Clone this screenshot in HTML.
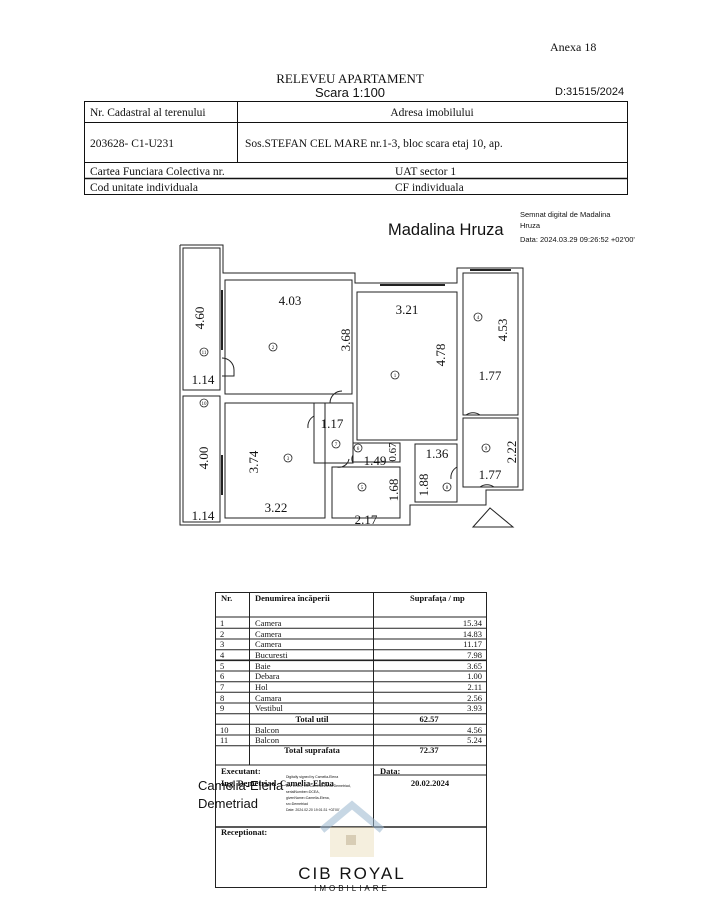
<!DOCTYPE html>
<html><head><meta charset="utf-8"><style>
html,body{margin:0;padding:0;background:#fff;}
svg{display:block}
.s{font-family:"Liberation Serif",serif;fill:#111}
.a{font-family:"Liberation Sans",sans-serif;fill:#111}
</style></head><body>
<svg width="702" height="900" viewBox="0 0 702 900" xmlns="http://www.w3.org/2000/svg">
<rect width="702" height="900" fill="#fff"/>
<text x="550" y="51" class="s" font-size="12">Anexa 18</text>
<text x="350" y="83" class="s" font-size="13" text-anchor="middle">RELEVEU  APARTAMENT</text>
<text x="350" y="97" class="a" font-size="13" text-anchor="middle">Scara 1:100</text>
<text x="555" y="95" class="a" font-size="11">D:31515/2024</text>
<g stroke="#111" stroke-width="1" fill="none">
<rect x="84.5" y="101.5" width="543" height="93"/>
<line x1="84" y1="122.5" x2="628" y2="122.5"/>
<line x1="84" y1="162.5" x2="628" y2="162.5"/>
<line x1="84" y1="178.5" x2="628" y2="178.5" stroke-width="1.5"/>
<line x1="237.5" y1="101" x2="237.5" y2="162"/>
</g>
<text x="90" y="116" class="s" font-size="11.5">Nr. Cadastral al terenului</text>
<text x="432" y="116" class="s" font-size="11.5" text-anchor="middle">Adresa imobilului</text>
<text x="90" y="147" class="s" font-size="11.5">203628- C1-U231</text>
<text x="245" y="147" class="s" font-size="11.5">Sos.STEFAN CEL MARE nr.1-3, bloc      scara      etaj 10, ap.</text>
<text x="90" y="175" class="s" font-size="11.5">Cartea Funciara Colectiva nr.</text>
<text x="395" y="175" class="s" font-size="11.5">UAT sector  1</text>
<text x="90" y="191" class="s" font-size="11.5">Cod unitate individuala</text>
<text x="395" y="191" class="s" font-size="11.5">CF individuala</text>
<text x="388" y="235" class="a" font-size="16.5">Madalina Hruza</text>
<text x="520" y="217" class="a" font-size="7.5" fill="#444">Semnat digital de Madalina</text>
<text x="520" y="228" class="a" font-size="7.5" fill="#444">Hruza</text>
<text x="520" y="242" class="a" font-size="7.5" fill="#444">Data: 2024.03.29 09:26:52 +02'00'</text>
<g stroke="#222" stroke-width="1" fill="none">
<polyline points="180,245 223,245 223,273 355,273 355,283 457,283 457,268 523,268 523,490 486,490 486,505 410,505 410,525 180,525 180,245"/>
<rect x="183" y="248" width="37" height="142"/>
<rect x="183" y="396" width="37" height="126"/>
<rect x="225" y="280" width="127" height="114"/>
<rect x="357" y="292" width="100" height="148"/>
<rect x="463" y="273" width="55" height="142"/>
<rect x="225" y="403" width="100" height="115"/>
<rect x="314" y="403" width="39" height="60"/>
<rect x="353" y="443" width="47" height="19"/>
<rect x="332" y="467" width="68" height="51"/>
<rect x="415" y="444" width="42" height="58"/>
<rect x="463" y="418" width="55" height="69"/>
<line x1="380" y1="285" x2="445" y2="285" stroke-width="2"/>
<line x1="470" y1="270" x2="511" y2="270" stroke-width="2"/>
<line x1="222" y1="290" x2="222" y2="350" stroke-width="2"/>
<line x1="222" y1="455" x2="222" y2="495" stroke-width="2"/>
<polygon points="473,527 490,508 513,527"/>
<path d="M222,358 a12,12 0 0 1 12,12 v6 h-12"/>
<path d="M330,403 a12,12 0 0 1 12,-12"/>
<path d="M314,416 a12,12 0 0 0 -6,12"/>
<path d="M466,415 a12,12 0 0 1 14,0"/>
<path d="M457,467 a12,12 0 0 0 -6,12"/>
<path d="M480,487 a12,12 0 0 1 14,0"/>
<path d="M353,455 a8,8 0 0 0 0,8"/>
<path d="M337,467 a10,10 0 0 0 12,-8"/>
</g>
<g class="s" font-size="13">
<text x="290" y="305" text-anchor="middle">4.03</text>
<text x="407" y="314" text-anchor="middle">3.21</text>
<text x="490" y="380" text-anchor="middle">1.77</text>
<text x="203" y="384" text-anchor="middle">1.14</text>
<text x="332" y="428" text-anchor="middle">1.17</text>
<text x="375" y="465" text-anchor="middle">1.49</text>
<text x="437" y="458" text-anchor="middle">1.36</text>
<text x="490" y="479" text-anchor="middle">1.77</text>
<text x="276" y="512" text-anchor="middle">3.22</text>
<text x="203" y="520" text-anchor="middle">1.14</text>
<text x="366" y="524" text-anchor="middle">2.17</text>
<text transform="translate(350,340) rotate(-90)" text-anchor="middle">3.68</text>
<text transform="translate(204,318) rotate(-90)" text-anchor="middle">4.60</text>
<text transform="translate(445,355) rotate(-90)" text-anchor="middle">4.78</text>
<text transform="translate(507,330) rotate(-90)" text-anchor="middle">4.53</text>
<text transform="translate(396,452) rotate(-90)" text-anchor="middle" font-size="11">0.67</text>
<text transform="translate(428,485) rotate(-90)" text-anchor="middle">1.88</text>
<text transform="translate(516,452) rotate(-90)" text-anchor="middle">2.22</text>
<text transform="translate(208,458) rotate(-90)" text-anchor="middle">4.00</text>
<text transform="translate(258,462) rotate(-90)" text-anchor="middle">3.74</text>
<text transform="translate(398,490) rotate(-90)" text-anchor="middle">1.68</text>
</g>
<g stroke="#222" fill="none" stroke-width="0.8">
<circle cx="273" cy="347" r="4"/><circle cx="204" cy="352" r="4"/><circle cx="204" cy="403" r="4"/>
<circle cx="395" cy="375" r="4"/><circle cx="478" cy="317" r="4"/><circle cx="288" cy="458" r="4"/>
<circle cx="336" cy="444" r="4"/><circle cx="358" cy="448" r="4"/><circle cx="362" cy="487" r="4"/>
<circle cx="447" cy="487" r="4"/><circle cx="486" cy="448" r="4"/>
</g>
<g class="s" font-size="5" text-anchor="middle">
<text x="273" y="349">2</text><text x="204" y="354">11</text><text x="204" y="405">10</text>
<text x="395" y="377">1</text><text x="478" y="319">4</text><text x="288" y="460">3</text>
<text x="336" y="446">7</text><text x="358" y="450">6</text><text x="362" y="489">5</text>
<text x="447" y="489">8</text><text x="486" y="450">9</text>
</g>
<g stroke="#222" stroke-width="1" fill="none">
<rect x="215.5" y="592.5" width="271" height="295"/>
<line x1="249.5" y1="592" x2="249.5" y2="765"/>
<line x1="373.5" y1="592" x2="373.5" y2="827"/>
<line x1="215" y1="617" x2="487" y2="617"/>
<line x1="215" y1="628.3" x2="487" y2="628.3"/>
<line x1="215" y1="639" x2="487" y2="639"/>
<line x1="215" y1="649.7" x2="487" y2="649.7"/>
<line x1="215" y1="660.3" x2="487" y2="660.3" stroke-width="1.6"/>
<line x1="215" y1="671" x2="487" y2="671"/>
<line x1="215" y1="681.7" x2="487" y2="681.7"/>
<line x1="215" y1="692.3" x2="487" y2="692.3"/>
<line x1="215" y1="703" x2="487" y2="703"/>
<line x1="215" y1="713.7" x2="487" y2="713.7"/>
<line x1="215" y1="724.3" x2="487" y2="724.3"/>
<line x1="215" y1="735" x2="487" y2="735"/>
<line x1="215" y1="745.7" x2="487" y2="745.7"/>
<line x1="215" y1="765" x2="487" y2="765"/>
<line x1="373" y1="775" x2="487" y2="775"/>
<line x1="215" y1="827" x2="487" y2="827" stroke-width="1.4"/>
</g>
<g class="s" font-size="8.5">
<text x="221" y="601" font-weight="bold">Nr.</text>
<text x="255" y="601" font-weight="bold">Denumirea încăperii</text>
<text x="410" y="601" font-weight="bold">Suprafaţa / mp</text>
<text x="220" y="626">1</text><text x="255" y="626">Camera</text><text x="482" y="626" text-anchor="end">15.34</text>
<text x="220" y="637">2</text><text x="255" y="637">Camera</text><text x="482" y="637" text-anchor="end">14.83</text>
<text x="220" y="647">3</text><text x="255" y="647">Camera</text><text x="482" y="647" text-anchor="end">11.17</text>
<text x="220" y="658">4</text><text x="255" y="658">Bucuresti</text><text x="482" y="658" text-anchor="end">7.98</text>
<text x="220" y="669">5</text><text x="255" y="669">Baie</text><text x="482" y="669" text-anchor="end">3.65</text>
<text x="220" y="679">6</text><text x="255" y="679">Debara</text><text x="482" y="679" text-anchor="end">1.00</text>
<text x="220" y="690">7</text><text x="255" y="690">Hol</text><text x="482" y="690" text-anchor="end">2.11</text>
<text x="220" y="701">8</text><text x="255" y="701">Camara</text><text x="482" y="701" text-anchor="end">2.56</text>
<text x="220" y="711">9</text><text x="255" y="711">Vestibul</text><text x="482" y="711" text-anchor="end">3.93</text>
<text x="312" y="722" font-weight="bold" text-anchor="middle">Total util</text>
<text x="429" y="722" font-weight="bold" text-anchor="middle">62.57</text>
<text x="220" y="733">10</text><text x="255" y="733">Balcon</text><text x="482" y="733" text-anchor="end">4.56</text>
<text x="220" y="743">11</text><text x="255" y="743">Balcon</text><text x="482" y="743" text-anchor="end">5.24</text>
<text x="312" y="753" font-weight="bold" text-anchor="middle">Total suprafata</text>
<text x="429" y="753" font-weight="bold" text-anchor="middle">72.37</text>
<text x="221" y="774" font-weight="bold">Executant:</text>
<text x="221" y="786" font-weight="bold">Ing. Demetriad</text>
<text x="280" y="786" font-weight="bold">Camelia-Elena</text>
<text x="380" y="774" font-weight="bold">Data:</text>
<text x="430" y="786" font-weight="bold" text-anchor="middle">20.02.2024</text>
<text x="221" y="835" font-weight="bold">Receptionat:</text>
</g>
<g class="a" font-size="3.5" fill="#666">
<text x="286" y="778">Digitally signed by Camelia-Elena</text>
<text x="286" y="787">DN: c=RO, cn=Camelia-Elena Demetriad,</text>
<text x="286" y="793">serialNumber=DCEA,</text>
<text x="286" y="799">givenName=Camelia-Elena,</text>
<text x="286" y="805">sn=Demetriad</text>
<text x="286" y="811">Date: 2024.02.20 19:01:31 +02'00'</text>
</g>
<text x="198" y="790" class="a" font-size="13">Camelia-Elena</text>
<text x="198" y="808" class="a" font-size="13">Demetriad</text>
<g opacity="0.55">
<path d="M322,830 L352,805 L382,830" stroke="#9bb7cf" stroke-width="7" fill="none"/>
<rect x="330" y="827" width="44" height="30" fill="#e8d9b4" opacity="0.8"/>
<rect x="346" y="835" width="10" height="10" fill="#b9a67a"/>
</g>
<text x="352" y="879" class="a" font-size="17" fill="#9aa0aa" text-anchor="middle" letter-spacing="2">CIB ROYAL</text>
<text x="352" y="891" class="a" font-size="8" fill="#9aa0aa" text-anchor="middle" letter-spacing="3">IMOBILIARE</text>
</svg>
</body></html>
